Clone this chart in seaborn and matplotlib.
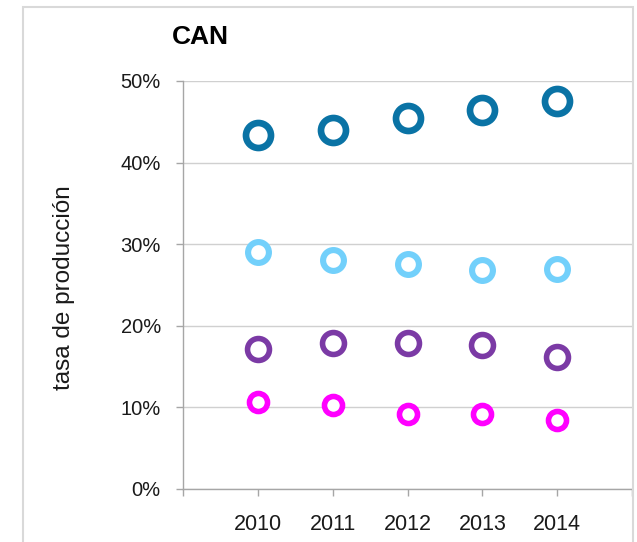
import matplotlib
matplotlib.use("Agg")
import matplotlib.pyplot as plt
import matplotlib.patches as mpatches
import seaborn as sns
import pandas as pd
from matplotlib.ticker import FuncFormatter

# Data (percent)
years = [2010, 2011, 2012, 2013, 2014]
serie_a = [43.4, 44.0, 45.5, 46.5, 47.6]   # dark blue
serie_b = [29.0, 28.1, 27.6, 26.8, 27.0]   # light blue
serie_c = [17.2, 17.9, 17.9, 17.6, 16.2]   # purple
serie_d = [10.7, 10.3, 9.2, 9.2, 8.4]      # magenta

yticks = [0, 10, 20, 30, 40, 50]

sns.set_style("white")
plt.rcParams['font.family'] = ['Liberation Sans', 'DejaVu Sans']

fig = plt.figure(figsize=(6.37, 5.42), dpi=100)
ax = fig.add_axes([183 / 637, 53 / 542, (632 - 183) / 637, 408 / 542])

# (values, colour, marker diameter in pt, ring width in pt)
series = [
    (serie_a, "#0a73a5", 18.0, 4.8),
    (serie_b, "#72d0fb", 15.0, 4.4),
    (serie_c, "#7b3aa5", 15.8, 4.0),
    (serie_d, "#ff00ff", 13.0, 4.0),
]

for vals, col, ms, lw in series:
    df = pd.DataFrame({"year": years, "value": vals})
    sns.scatterplot(data=df, x="year", y="value", ax=ax, marker="o",
                    s=ms ** 2, facecolor="white", edgecolor=col,
                    linewidth=lw, zorder=3, legend=False)

ax.set_xlim(2009, 2015)
ax.set_ylim(0, 50)
ax.set_yticks(yticks)
ax.yaxis.set_major_formatter(FuncFormatter(lambda v, p: f"{int(v)}%"))
ax.set_xticks(range(2009, 2016))
ax.set_xticklabels([""] + [str(y) for y in years] + [""])

ax.grid(axis="y", color="#d0d0d0", linewidth=1)
ax.set_axisbelow(True)
for side in ["top", "right"]:
    ax.spines[side].set_visible(False)
for side in ["left", "bottom"]:
    ax.spines[side].set_color("#a6a6a6")
    ax.spines[side].set_linewidth(1)

ax.tick_params(axis="y", direction="out", length=5, width=1, color="#a6a6a6",
               pad=11, labelsize=14.5, labelcolor="#1a1a1a", left=True)
ax.tick_params(axis="x", direction="out", length=5, width=1, color="#a6a6a6",
               pad=13, labelsize=15.5, labelcolor="#1a1a1a", bottom=True)

ax.set_xlabel("")
ax.set_ylabel("tasa de producción", fontsize=17.5, color="#1a1a1a")
ax.yaxis.set_label_coords(-0.24, 0.494)

fig.text(172 / 637, 1 - 37 / 542, "CAN", fontsize=19, fontweight="bold",
         ha="left", va="center", color="black")

# light grey frame around the chart area
frame = mpatches.Rectangle((23 / 637, -0.02), (633 - 23) / 637, 0.02 + (542 - 7) / 542,
                           transform=fig.transFigure, fill=False,
                           edgecolor="#d9d9d9", linewidth=1.5)
fig.patches.append(frame)

fig.savefig("out.png", dpi=100)
